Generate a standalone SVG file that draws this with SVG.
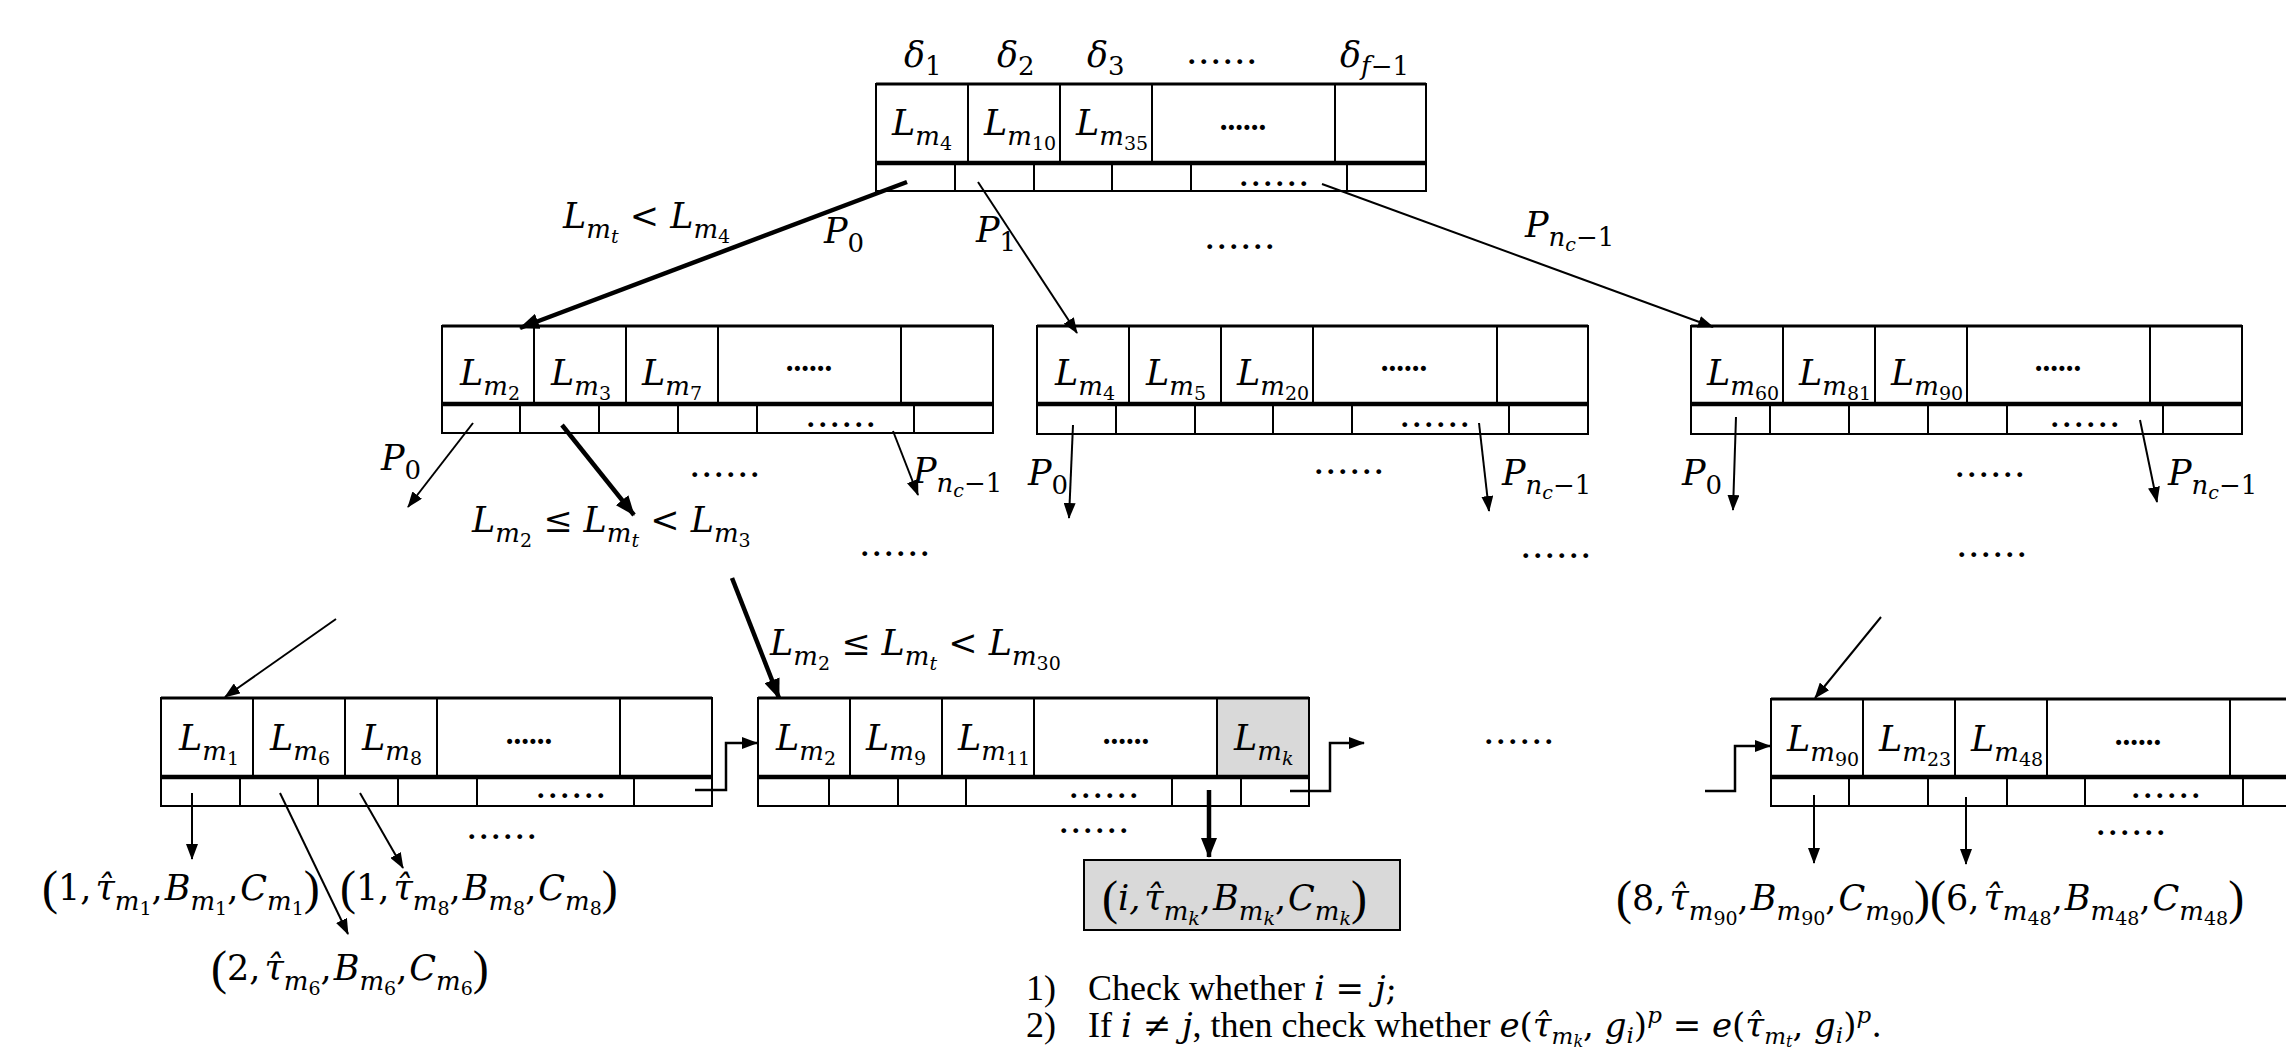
<svg xmlns="http://www.w3.org/2000/svg" width="2286" height="1054" viewBox="0 0 2286 1054">
<style>
.bx{fill:#fff;stroke:#000;stroke-width:2}
.tb{stroke:#000;stroke-width:3;fill:none}
.dv{stroke:#000;stroke-width:4.5;fill:none}
.vl{stroke:#000;stroke-width:2;fill:none}
.m{font-family:"DejaVu Serif",serif;font-style:italic;font-size:35px;fill:#000}
.t{font-family:"Liberation Serif",serif;font-size:36px;fill:#000}
.mm{font-family:"DejaVu Serif",serif;font-style:italic;font-size:34px}
.u{font-style:normal}
.s{font-size:26px}
.ss{font-size:19px}
.ms{font-size:23px}
.mss{font-size:16px}
.p{font-family:"Liberation Serif",serif;font-style:normal;font-size:48px}
.kd{font-family:"Liberation Serif",serif;font-weight:bold;font-size:31px;text-anchor:middle}
.fd{font-family:"Liberation Serif",serif;font-weight:bold;font-size:30px;letter-spacing:4.5px;text-anchor:middle}
.thin{stroke:#000;stroke-width:2;fill:none;marker-end:url(#ah)}
.thick{stroke:#000;stroke-width:4.5;fill:none;marker-end:url(#ahb)}
.lk{stroke:#000;stroke-width:2.5;fill:none;marker-end:url(#ah)}
</style>
<defs>
<marker id="ah" markerUnits="userSpaceOnUse" viewBox="0 0 16 12" refX="15" refY="6" markerWidth="16" markerHeight="12" orient="auto"><path d="M0,0 L16,6 L0,12 z" fill="#000"/></marker>
<marker id="ahb" markerUnits="userSpaceOnUse" viewBox="0 0 20 16" refX="19" refY="8" markerWidth="20" markerHeight="16" orient="auto"><path d="M0,0 L20,8 L0,16 z" fill="#000"/></marker>
</defs>
<rect width="2286" height="1054" fill="#fff"/>

<!-- Root node -->
<g id="node-root">
<text class="m" x="904" y="67">δ<tspan class="s u" dy="8">1</tspan></text>
<text class="m" x="997" y="67">δ<tspan class="s u" dy="8">2</tspan></text>
<text class="m" x="1087" y="67">δ<tspan class="s u" dy="8">3</tspan></text>
<text class="fd" x="1224" y="64">......</text>
<text class="m" x="1340" y="67">δ<tspan class="s" dy="8">f</tspan><tspan class="s u">−1</tspan></text>
<rect class="bx" x="876" y="84" width="550" height="107"/>
<path class="tb" d="M876,84 H1426"/>
<path class="dv" d="M876,163 H1426"/>
<path class="vl" d="M968,84 V163 M1060,84 V163 M1152,84 V163 M1335,84 V163 M955,163 V191 M1034,163 V191 M1112,163 V191 M1191,163 V191 M1347,163 V191"/>
<text class="m" x="892" y="135">L<tspan class="s" dy="10">m</tspan><tspan class="ss u" dy="5">4</tspan></text>
<text class="m" x="984" y="135">L<tspan class="s" dy="10">m</tspan><tspan class="ss u" dy="5">10</tspan></text>
<text class="m" x="1076" y="135">L<tspan class="s" dy="10">m</tspan><tspan class="ss u" dy="5">35</tspan></text>
<text class="kd" x="1243" y="130">......</text>
<text class="fd" x="1276" y="186">......</text>
</g>

<!-- Middle level -->
<g id="node-mid-left">
<rect class="bx" x="442" y="326" width="551" height="107"/>
<path class="tb" d="M442,326 H993"/>
<path class="dv" d="M442,404 H993"/>
<path class="vl" d="M534,326 V404 M626,326 V404 M718,326 V404 M901,326 V404 M520,404 V433 M599,404 V433 M678,404 V433 M757,404 V433 M914,404 V433"/>
<text class="m" x="460" y="385">L<tspan class="s" dy="10">m</tspan><tspan class="ss u" dy="5">2</tspan></text>
<text class="m" x="551" y="385">L<tspan class="s" dy="10">m</tspan><tspan class="ss u" dy="5">3</tspan></text>
<text class="m" x="642" y="385">L<tspan class="s" dy="10">m</tspan><tspan class="ss u" dy="5">7</tspan></text>
<text class="kd" x="809" y="371">......</text>
<text class="fd" x="843" y="427">......</text>
</g>

<g id="node-mid-center">
<rect class="bx" x="1037" y="326" width="551" height="108"/>
<path class="tb" d="M1037,326 H1588"/>
<path class="dv" d="M1037,404 H1588"/>
<path class="vl" d="M1129,326 V404 M1221,326 V404 M1313,326 V404 M1497,326 V404 M1116,404 V434 M1195,404 V434 M1273,404 V434 M1352,404 V434 M1509,404 V434"/>
<text class="m" x="1055" y="385">L<tspan class="s" dy="10">m</tspan><tspan class="ss u" dy="5">4</tspan></text>
<text class="m" x="1146" y="385">L<tspan class="s" dy="10">m</tspan><tspan class="ss u" dy="5">5</tspan></text>
<text class="m" x="1237" y="385">L<tspan class="s" dy="10">m</tspan><tspan class="ss u" dy="5">20</tspan></text>
<text class="kd" x="1404" y="371">......</text>
<text class="fd" x="1437" y="427">......</text>
</g>

<g id="node-mid-right">
<rect class="bx" x="1691" y="326" width="551" height="108"/>
<path class="tb" d="M1691,326 H2242"/>
<path class="dv" d="M1691,404 H2242"/>
<path class="vl" d="M1783,326 V404 M1875,326 V404 M1967,326 V404 M2150,326 V404 M1770,404 V434 M1849,404 V434 M1928,404 V434 M2007,404 V434 M2163,404 V434"/>
<text class="m" x="1707" y="385">L<tspan class="s" dy="10">m</tspan><tspan class="ss u" dy="5">60</tspan></text>
<text class="m" x="1799" y="385">L<tspan class="s" dy="10">m</tspan><tspan class="ss u" dy="5">81</tspan></text>
<text class="m" x="1891" y="385">L<tspan class="s" dy="10">m</tspan><tspan class="ss u" dy="5">90</tspan></text>
<text class="kd" x="2058" y="371">......</text>
<text class="fd" x="2087" y="427">......</text>
</g>

<!-- Leaf level -->
<g id="node-leaf-left">
<rect class="bx" x="161" y="698" width="551" height="108"/>
<path class="tb" d="M161,698 H712"/>
<path class="dv" d="M161,777 H712"/>
<path class="vl" d="M253,698 V777 M345,698 V777 M437,698 V777 M620,698 V777 M240,777 V806 M318,777 V806 M398,777 V806 M477,777 V806 M634,777 V806"/>
<text class="m" x="179" y="750">L<tspan class="s" dy="10">m</tspan><tspan class="ss u" dy="5">1</tspan></text>
<text class="m" x="270" y="750">L<tspan class="s" dy="10">m</tspan><tspan class="ss u" dy="5">6</tspan></text>
<text class="m" x="362" y="750">L<tspan class="s" dy="10">m</tspan><tspan class="ss u" dy="5">8</tspan></text>
<text class="kd" x="529" y="744">......</text>
<text class="fd" x="573" y="798">......</text>
</g>

<g id="node-leaf-center">
<rect class="bx" x="758" y="698" width="551" height="108"/>
<rect x="1217" y="698" width="92" height="79" fill="#d9d9d9"/>
<path class="vl" d="M758,698 V806 H1309 V698"/>
<path class="tb" d="M758,698 H1309"/>
<path class="dv" d="M758,777 H1309"/>
<path class="vl" d="M850,698 V777 M942,698 V777 M1034,698 V777 M1217,698 V777 M829,777 V806 M898,777 V806 M966,777 V806 M1172,777 V806 M1241,777 V806"/>
<text class="m" x="776" y="750">L<tspan class="s" dy="10">m</tspan><tspan class="ss u" dy="5">2</tspan></text>
<text class="m" x="866" y="750">L<tspan class="s" dy="10">m</tspan><tspan class="ss u" dy="5">9</tspan></text>
<text class="m" x="958" y="750">L<tspan class="s" dy="10">m</tspan><tspan class="ss u" dy="5">11</tspan></text>
<text class="kd" x="1126" y="744">......</text>
<text class="m" x="1234" y="750">L<tspan class="s" dy="10">m</tspan><tspan class="ss" dy="5">k</tspan></text>
<text class="fd" x="1106" y="798">......</text>
</g>

<g id="node-leaf-right">
<rect class="bx" x="1771" y="699" width="560" height="107"/>
<path class="tb" d="M1771,699 H2290"/>
<path class="dv" d="M1771,777 H2290"/>
<path class="vl" d="M1863,699 V777 M1955,699 V777 M2047,699 V777 M2230,699 V777 M1849,777 V806 M1928,777 V806 M2007,777 V806 M2085,777 V806 M2243,777 V806"/>
<text class="m" x="1787" y="751">L<tspan class="s" dy="10">m</tspan><tspan class="ss u" dy="5">90</tspan></text>
<text class="m" x="1879" y="751">L<tspan class="s" dy="10">m</tspan><tspan class="ss u" dy="5">23</tspan></text>
<text class="m" x="1971" y="751">L<tspan class="s" dy="10">m</tspan><tspan class="ss u" dy="5">48</tspan></text>
<text class="kd" x="2138" y="745">......</text>
<text class="fd" x="2168" y="798">......</text>
</g>

<g id="node-result">
<rect x="1084" y="860" width="316" height="70" fill="#d9d9d9" stroke="#000" stroke-width="2"/>
<text class="m" x="1102" y="910"><tspan class="p" dy="4">(</tspan><tspan dy="-4">i,</tspan><tspan dx="4">τ̂</tspan><tspan class="s" dy="10">m</tspan><tspan class="ss" dy="5">k</tspan><tspan class="u" dy="-15">,</tspan><tspan dx="2">B</tspan><tspan class="s" dy="10">m</tspan><tspan class="ss" dy="5">k</tspan><tspan class="u" dy="-15">,</tspan><tspan dx="2">C</tspan><tspan class="s" dy="10">m</tspan><tspan class="ss" dy="5">k</tspan><tspan class="p" dy="-11">)</tspan></text>
</g>

<!-- Floating labels -->
<g id="labels">
<text class="fd" x="1242" y="249">......</text>
<text class="m" x="563" y="228">L<tspan class="s" dy="10">m</tspan><tspan class="ss" dy="5">t</tspan><tspan class="u" dy="-15"> &lt; </tspan>L<tspan class="s" dy="10">m</tspan><tspan class="ss u" dy="5">4</tspan></text>
<text class="m" x="824" y="243">P<tspan class="s u" dy="9">0</tspan></text>
<text class="m" x="976" y="242">P<tspan class="s u" dy="9">1</tspan></text>
<text class="m" x="1525" y="237">P<tspan class="s" dy="9">n</tspan><tspan class="ss" dy="5">c</tspan><tspan class="s u" dy="-5">−1</tspan></text>

<text class="m" x="381" y="470">P<tspan class="s u" dy="9">0</tspan></text>
<text class="fd" x="727" y="477">......</text>
<text class="m" x="913" y="483">P<tspan class="s" dy="9">n</tspan><tspan class="ss" dy="5">c</tspan><tspan class="s u" dy="-5">−1</tspan></text>
<text class="m" x="472" y="532">L<tspan class="s" dy="10">m</tspan><tspan class="ss u" dy="5">2</tspan><tspan class="u" dy="-15"> ≤ </tspan>L<tspan class="s" dy="10">m</tspan><tspan class="ss" dy="5">t</tspan><tspan class="u" dy="-15"> &lt; </tspan>L<tspan class="s" dy="10">m</tspan><tspan class="ss u" dy="5">3</tspan></text>
<text class="fd" x="897" y="556">......</text>

<text class="m" x="1028" y="485">P<tspan class="s u" dy="9">0</tspan></text>
<text class="fd" x="1351" y="474">......</text>
<text class="m" x="1502" y="485">P<tspan class="s" dy="9">n</tspan><tspan class="ss" dy="5">c</tspan><tspan class="s u" dy="-5">−1</tspan></text>
<text class="fd" x="1558" y="558">......</text>

<text class="m" x="1682" y="485">P<tspan class="s u" dy="9">0</tspan></text>
<text class="fd" x="1992" y="477">......</text>
<text class="m" x="2168" y="485">P<tspan class="s" dy="9">n</tspan><tspan class="ss" dy="5">c</tspan><tspan class="s u" dy="-5">−1</tspan></text>
<text class="fd" x="1994" y="557">......</text>

<text class="m" x="770" y="655">L<tspan class="s" dy="10">m</tspan><tspan class="ss u" dy="5">2</tspan><tspan class="u" dy="-15"> ≤ </tspan>L<tspan class="s" dy="10">m</tspan><tspan class="ss" dy="5">t</tspan><tspan class="u" dy="-15"> &lt; </tspan>L<tspan class="s" dy="10">m</tspan><tspan class="ss u" dy="5">30</tspan></text>
<text class="fd" x="1521" y="744">......</text>

<text class="fd" x="504" y="839">......</text>
<text class="fd" x="1096" y="833">......</text>
<text class="fd" x="2133" y="835">......</text>

<text class="m" x="42" y="900"><tspan class="p" dy="4">(</tspan><tspan class="u" dy="-4">1,</tspan><tspan dx="4">τ̂</tspan><tspan class="s" dy="10">m</tspan><tspan class="ss u" dy="5">1</tspan><tspan class="u" dy="-15">,</tspan><tspan dx="2">B</tspan><tspan class="s" dy="10">m</tspan><tspan class="ss u" dy="5">1</tspan><tspan class="u" dy="-15">,</tspan><tspan dx="2">C</tspan><tspan class="s" dy="10">m</tspan><tspan class="ss u" dy="5">1</tspan><tspan class="p" dy="-11">)</tspan></text>
<text class="m" x="340" y="900"><tspan class="p" dy="4">(</tspan><tspan class="u" dy="-4">1,</tspan><tspan dx="4">τ̂</tspan><tspan class="s" dy="10">m</tspan><tspan class="ss u" dy="5">8</tspan><tspan class="u" dy="-15">,</tspan><tspan dx="2">B</tspan><tspan class="s" dy="10">m</tspan><tspan class="ss u" dy="5">8</tspan><tspan class="u" dy="-15">,</tspan><tspan dx="2">C</tspan><tspan class="s" dy="10">m</tspan><tspan class="ss u" dy="5">8</tspan><tspan class="p" dy="-11">)</tspan></text>
<text class="m" x="211" y="980"><tspan class="p" dy="4">(</tspan><tspan class="u" dy="-4">2,</tspan><tspan dx="4">τ̂</tspan><tspan class="s" dy="10">m</tspan><tspan class="ss u" dy="5">6</tspan><tspan class="u" dy="-15">,</tspan><tspan dx="2">B</tspan><tspan class="s" dy="10">m</tspan><tspan class="ss u" dy="5">6</tspan><tspan class="u" dy="-15">,</tspan><tspan dx="2">C</tspan><tspan class="s" dy="10">m</tspan><tspan class="ss u" dy="5">6</tspan><tspan class="p" dy="-11">)</tspan></text>

<text class="m" x="1616" y="910"><tspan class="p" dy="4">(</tspan><tspan class="u" dy="-4">8,</tspan><tspan dx="4">τ̂</tspan><tspan class="s" dy="10">m</tspan><tspan class="ss u" dy="5">90</tspan><tspan class="u" dy="-15">,</tspan><tspan dx="2">B</tspan><tspan class="s" dy="10">m</tspan><tspan class="ss u" dy="5">90</tspan><tspan class="u" dy="-15">,</tspan><tspan dx="2">C</tspan><tspan class="s" dy="10">m</tspan><tspan class="ss u" dy="5">90</tspan><tspan class="p" dy="-11">)(</tspan><tspan class="u" dy="-4">6,</tspan><tspan dx="4">τ̂</tspan><tspan class="s" dy="10">m</tspan><tspan class="ss u" dy="5">48</tspan><tspan class="u" dy="-15">,</tspan><tspan dx="2">B</tspan><tspan class="s" dy="10">m</tspan><tspan class="ss u" dy="5">48</tspan><tspan class="u" dy="-15">,</tspan><tspan dx="2">C</tspan><tspan class="s" dy="10">m</tspan><tspan class="ss u" dy="5">48</tspan><tspan class="p" dy="-11">)</tspan></text>

<text class="t" x="1026" y="1000">1)<tspan x="1088">Check whether </tspan><tspan class="mm">i</tspan><tspan class="mm u"> = </tspan><tspan class="mm">j</tspan><tspan class="mm u">;</tspan></text>
<text class="t" x="1026" y="1037">2)<tspan x="1088">If </tspan><tspan class="mm">i</tspan><tspan class="mm u"> ≠ </tspan><tspan class="mm">j</tspan>, then check whether <tspan class="mm">e</tspan><tspan class="mm u">(</tspan><tspan class="mm">τ̂</tspan><tspan class="mm ms" dy="7">m</tspan><tspan class="mm mss" dy="3">k</tspan><tspan class="mm u" dy="-10">, </tspan><tspan class="mm">g</tspan><tspan class="mm ms" dy="6">i</tspan><tspan class="mm u" dy="-6">)</tspan><tspan class="mm ms" dy="-14">p</tspan><tspan class="mm u" dy="14"> = </tspan><tspan class="mm">e</tspan><tspan class="mm u">(</tspan><tspan class="mm">τ̂</tspan><tspan class="mm ms" dy="7">m</tspan><tspan class="mm mss" dy="3">t</tspan><tspan class="mm u" dy="-10">, </tspan><tspan class="mm">g</tspan><tspan class="mm ms" dy="6">i</tspan><tspan class="mm u" dy="-6">)</tspan><tspan class="mm ms" dy="-14">p</tspan><tspan class="mm u" dy="14">.</tspan></text>
</g>

<g id="connectors">
<line class="thick" x1="907" y1="182" x2="520" y2="328"/>
<line class="thin" x1="978" y1="182" x2="1077" y2="333"/>
<line class="thin" x1="1322" y1="184" x2="1713" y2="327"/>
<line class="thin" x1="473" y1="423" x2="408" y2="507"/>
<line class="thick" x1="562" y1="425" x2="634" y2="515"/>
<line class="thin" x1="893" y1="431" x2="918" y2="495"/>
<line class="thin" x1="1073" y1="425" x2="1069" y2="518"/>
<line class="thin" x1="1479" y1="423" x2="1489" y2="511"/>
<line class="thin" x1="1736" y1="417" x2="1733" y2="510"/>
<line class="thin" x1="2140" y1="420" x2="2157" y2="502"/>
<line class="thin" x1="336" y1="619" x2="225" y2="697"/>
<line class="thick" x1="732" y1="578" x2="779" y2="698"/>
<path class="lk" d="M695,790 H726 V743 H757"/>
<path class="lk" d="M1290,791 H1330 V743 H1364"/>
<path class="lk" d="M1705,791 H1735 V746 H1770"/>
<line class="thin" x1="1881" y1="617" x2="1815" y2="698"/>
<line class="thin" x1="192" y1="793" x2="192" y2="859"/>
<line class="thin" x1="280" y1="793" x2="348" y2="934"/>
<line class="thin" x1="360" y1="793" x2="403" y2="868"/>
<line class="thick" x1="1209" y1="790" x2="1209" y2="857"/>
<line class="thin" x1="1814" y1="795" x2="1814" y2="863"/>
<line class="thin" x1="1966" y1="797" x2="1966" y2="864"/>
</g>
</svg>
